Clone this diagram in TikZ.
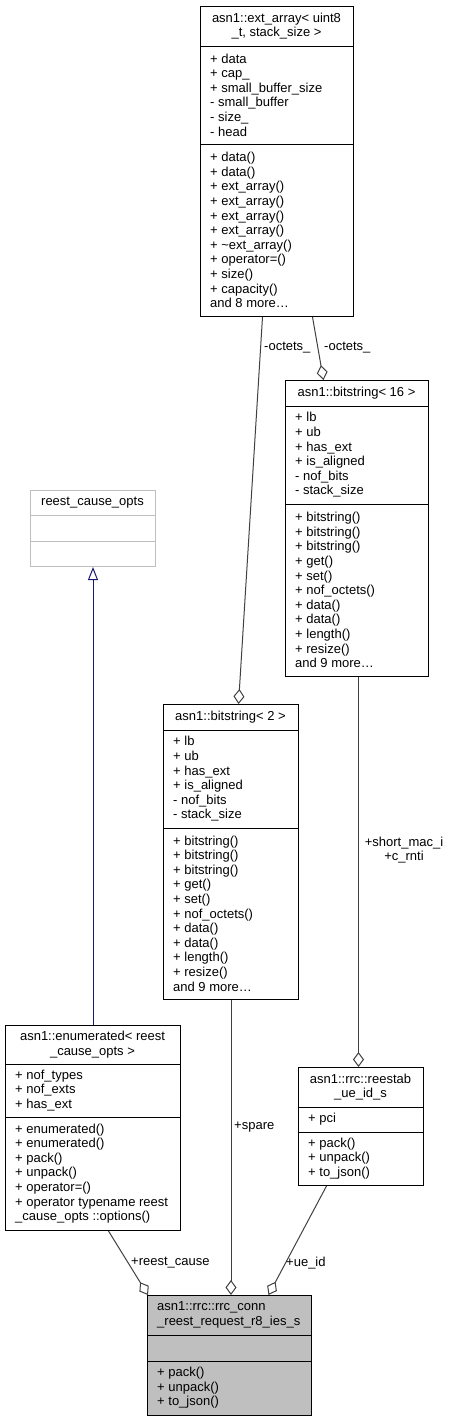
\documentclass[tikz,border=0pt]{standalone}
\usepackage{fontspec}
\setmainfont{Liberation Sans}
\usepackage{tikz}
\usetikzlibrary{arrows.meta}
\definecolor{edgegray}{HTML}{404040}
\definecolor{boxgray}{HTML}{BFBFBF}
\definecolor{inhblue}{HTML}{191970}

\begin{document}
\begin{tikzpicture}[x=1pt,y=-1pt,
  every node/.style={font=\fontsize{13}{14.6}\selectfont, inner sep=0pt},
  cls/.style={draw=black, line width=1pt, anchor=north west},
  txt/.style={anchor=west, align=left},
  ttl/.style={align=center},
  comp/.style={draw=edgegray, line width=1pt, -{Diamond[open,length=15pt,width=11pt]}},
  inh/.style={draw=inhblue, line width=1pt, -{Triangle[open,length=13pt,width=10pt]}},
  lbl/.style={anchor=west}]
\useasboundingbox (0,0) rectangle (450,1421);
%boxes
%ext_array
\node[cls, minimum width=153, minimum height=310] (extarr) at (200,6) {};
\draw (200,46) -- (353,46);
\draw (200,144) -- (353,144);
\node[ttl] (extarrt) at (276.5,26) {asn1::ext\_array< uint8\\\_t, stack\_size >};
\node[txt] (extarra) at (210,95) {+ data\\+ cap\_\\+ small\_buffer\_size\\- small\_buffer\\- size\_\\- head};
\node[txt] (extarrm) at (210,230) {+ data()\\+ data()\\+ ext\_array()\\+ ext\_array()\\+ ext\_array()\\+ ext\_array()\\+ \textasciitilde ext\_array()\\+ operator=()\\+ size()\\+ capacity()\\and 8 more\dots};
%bitstring 16
\node[cls, minimum width=143, minimum height=296] (bs16) at (285,380) {};
\draw (285,406) -- (428,406);
\draw (285,504) -- (428,504);
\node[ttl] (bs16t) at (356.5,393) {asn1::bitstring< 16 >};
\node[txt] (bs16a) at (295,455) {+ lb\\+ ub\\+ has\_ext\\+ is\_aligned\\- nof\_bits\\- stack\_size};
\node[txt] (bs16m) at (295,590) {+ bitstring()\\+ bitstring()\\+ bitstring()\\+ get()\\+ set()\\+ nof\_octets()\\+ data()\\+ data()\\+ length()\\+ resize()\\and 9 more\dots};
%bitstring 2
\node[cls, minimum width=135, minimum height=295] (bs2) at (163,704) {};
\draw (163,730) -- (298,730);
\draw (163,828) -- (298,828);
\node[ttl] (bs2t) at (230.5,717) {asn1::bitstring< 2 >};
\node[txt] (bs2a) at (173,779) {+ lb\\+ ub\\+ has\_ext\\+ is\_aligned\\- nof\_bits\\- stack\_size};
\node[txt] (bs2m) at (173,913.5) {+ bitstring()\\+ bitstring()\\+ bitstring()\\+ get()\\+ set()\\+ nof\_octets()\\+ data()\\+ data()\\+ length()\\+ resize()\\and 9 more\dots};
%reest_cause_opts
\node[cls, draw=boxgray, minimum width=125, minimum height=76] (opts) at (30,490) {};
\draw[boxgray] (30,515) -- (155,515);
\draw[boxgray] (30,541) -- (155,541);
\node[ttl] (optst) at (92.5,502.5) {reest\_cause\_opts};
%enumerated
\node[cls, minimum width=175, minimum height=205] (enum) at (5,1025) {};
\draw (5,1064) -- (180,1064);
\draw (5,1117) -- (180,1117);
\node[ttl] (enumt) at (92.5,1044.5) {asn1::enumerated< reest\\\_cause\_opts >};
\node[txt] (enuma) at (15,1090.5) {+ nof\_types\\+ nof\_exts\\+ has\_ext};
\node[txt] (enumm) at (15,1173.5) {+ enumerated()\\+ enumerated()\\+ pack()\\+ unpack()\\+ operator=()\\+ operator typename reest\\\_cause\_opts ::options()};
%reestab_ue_id_s
\node[cls, minimum width=125, minimum height=118] (reestab) at (298,1067) {};
\draw (298,1107) -- (423,1107);
\draw (298,1132) -- (423,1132);
\node[ttl] (reestabt) at (360.5,1087) {asn1::rrc::reestab\\\_ue\_id\_s};
\node[txt] (reestaba) at (308,1119.5) {+ pci};
\node[txt] (reestabm) at (308,1158.5) {+ pack()\\+ unpack()\\+ to\_json()};
%rrc_conn_reest_request_r8_ies_s
\node[cls, fill=boxgray, minimum width=164, minimum height=120] (reqies) at (147,1295) {};
\draw (147,1335) -- (311,1335);
\draw (147,1361) -- (311,1361);
\node[txt] (reqiest) at (157,1315) {asn1::rrc::rrc\_conn\\\_reest\_request\_r8\_ies\_s};
\node[txt] (reqiesm) at (157,1388) {+ pack()\\+ unpack()\\+ to\_json()};

%edges
\draw[comp] ([xshift=-14.5]extarr.south) -- ([xshift=7.5]bs2.north);
\draw[comp] ([xshift=35.5]extarr.south) -- ([xshift=-33.5]bs16.north);
\draw[comp] ([xshift=1.5]bs16.south) -- ([xshift=-2.5]reestab.north);
\draw[comp] (bs2.south) -- ([xshift=1.5]reqies.north);
\draw[comp] ([xshift=15.5]enum.south) -- ([xshift=1]reqies.north west);
\draw[comp] ([xshift=-34.5]reestab.south) -- ([xshift=39]reqies.north);
\draw[inh] (enum.north) -- (opts.south);
%labels
\node[lbl] (oct1) at (264,348) {-octets\_};
\node[lbl] (oct2) at (324,348) {-octets\_};
\node[ttl] (macrnti) at (404,850) {+short\_mac\_i\\+c\_rnti};
\node[lbl] (spare) at (234,1127) {+spare};
\node[lbl] (cause) at (131,1263) {+reest\_cause};
\node[lbl] (ueid) at (286,1263) {+ue\_id};
\end{tikzpicture}
\end{document}
